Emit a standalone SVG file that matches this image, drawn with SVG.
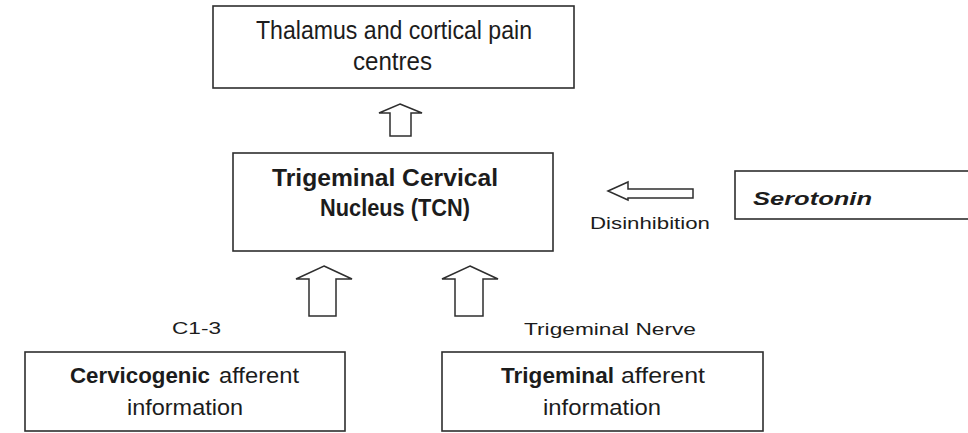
<svg xmlns="http://www.w3.org/2000/svg" width="968" height="433" viewBox="0 0 968 433">
  <style>
    .box { fill: #ffffff; stroke: #2e2e2e; stroke-width: 1.6; }
    .arrow { fill: #ffffff; stroke: #2e2e2e; stroke-width: 1.5; stroke-linejoin: miter; }
    .cond { font-family: "Liberation Sans", Arial, sans-serif; fill: #1c1c1c; }
    .label { font-family: "Liberation Sans", Arial, sans-serif; font-size: 17px; fill: #1c1c1c; }
    .b { font-weight: bold; }
  </style>
  <rect width="968" height="433" fill="#ffffff"/>

  <!-- connectors: block arrows -->
  <g id="connectors">
    <path class="arrow" d="M400,104 L422,113 L411,113 L411,136 L390,136 L390,113 L379,113 Z"/>
    <path class="arrow" d="M608,191 L628,182 L628,189 L693,189 L693,198 L628,198 L628,200 Z"/>
    <path class="arrow" d="M324,266 L352,279 L336,279 L336,316 L309,316 L309,279 L296,279 Z"/>
    <path class="arrow" d="M470,266 L498,279 L483,279 L483,316 L455,316 L455,279 L442,279 Z"/>
    <text class="label" x="590" y="229" textLength="120" lengthAdjust="spacingAndGlyphs">Disinhibition</text>
    <text class="label" x="172" y="334" textLength="49" lengthAdjust="spacingAndGlyphs">C1-3</text>
    <text class="label" x="524" y="335" textLength="172" lengthAdjust="spacingAndGlyphs">Trigeminal Nerve</text>
  </g>

  <g id="thalamus">
    <rect class="box" x="213" y="6" width="361" height="82"/>
    <text class="cond" font-size="26" x="256" y="39" textLength="276" lengthAdjust="spacingAndGlyphs">Thalamus and cortical pain</text>
    <text class="cond" font-size="26" x="353" y="70" textLength="79" lengthAdjust="spacingAndGlyphs">centres</text>
  </g>

  <g id="tcn">
    <rect class="box" x="233" y="153" width="320" height="98"/>
    <text class="cond b" font-size="24" x="272" y="186" textLength="226" lengthAdjust="spacingAndGlyphs">Trigeminal Cervical</text>
    <text class="cond b" font-size="24" x="320" y="216" textLength="150" lengthAdjust="spacingAndGlyphs">Nucleus (TCN)</text>
  </g>

  <g id="serotonin">
    <rect class="box" x="735" y="171" width="245" height="48"/>
    <text class="cond b" font-size="18" font-style="italic" x="753" y="205" textLength="119" lengthAdjust="spacingAndGlyphs">Serotonin</text>
  </g>

  <g id="cervicogenic">
    <rect class="box" x="25" y="352" width="320" height="79"/>
    <text class="cond b" font-size="22" x="70" y="383" textLength="140" lengthAdjust="spacingAndGlyphs">Cervicogenic</text>
    <text class="cond" font-size="22" x="219" y="383" textLength="80" lengthAdjust="spacingAndGlyphs">afferent</text>
    <text class="cond" font-size="22" x="127" y="415" textLength="116" lengthAdjust="spacingAndGlyphs">information</text>
  </g>

  <g id="trigeminal">
    <rect class="box" x="442" y="352" width="321" height="79"/>
    <text class="cond b" font-size="22" x="501" y="383" textLength="113" lengthAdjust="spacingAndGlyphs">Trigeminal</text>
    <text class="cond" font-size="22" x="621" y="383" textLength="84" lengthAdjust="spacingAndGlyphs">afferent</text>
    <text class="cond" font-size="22" x="543" y="415" textLength="118" lengthAdjust="spacingAndGlyphs">information</text>
  </g>
</svg>
